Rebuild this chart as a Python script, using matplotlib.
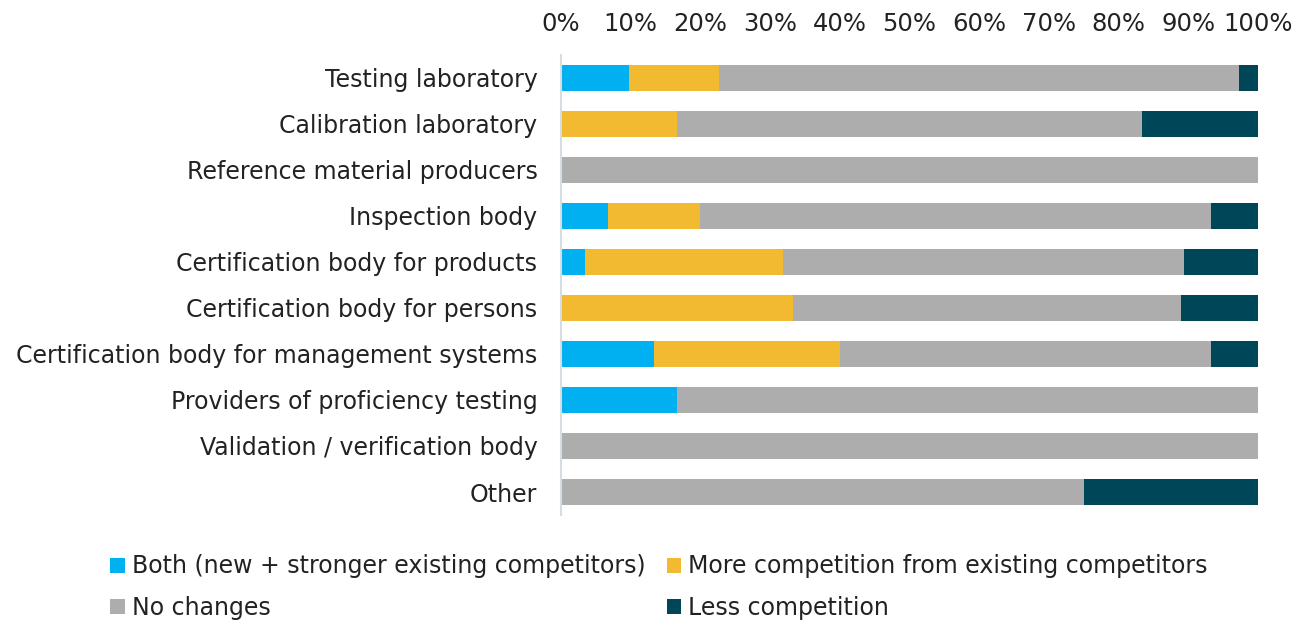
import numpy as np
import matplotlib.pyplot as plt
from matplotlib.ticker import PercentFormatter

categories = ["Testing laboratory", "Calibration laboratory", "Reference material producers",
              "Inspection body", "Certification body for products", "Certification body for persons",
              "Certification body for management systems", "Providers of proficiency testing",
              "Validation / verification body", "Other"]
both = [9.8, 0, 0, 6.7, 3.4, 0, 13.3, 16.7, 0, 0]
more = [12.9, 16.7, 0, 13.3, 28.4, 33.3, 26.7, 0, 0, 0]
no_change = [74.6, 66.6, 100, 73.3, 57.6, 55.6, 53.3, 83.3, 100, 75]
less = [2.7, 16.7, 0, 6.7, 10.6, 11.1, 6.7, 0, 0, 25]

series = [("Both (new + stronger existing competitors)", both, "#00B0F0"),
          ("More competition from existing competitors", more, "#F2BA30"),
          ("No changes", no_change, "#ADADAD"),
          ("Less competition", less, "#004659")]

plt.rcParams['font.family'] = 'DejaVu Sans'
txt = "#222222"
fs = 17

fig = plt.figure(figsize=(12.95, 6.21), dpi=100)
ax = fig.add_axes([561 / 1295, 1 - 515 / 621, 697 / 1295, 460 / 621])

y = np.arange(len(categories))
left = np.zeros(len(categories))
bars = []
for name, vals, color in series:
    vals = np.array(vals)
    bars.append(ax.barh(y, vals, left=left, height=0.57, color=color, label=name))
    left += vals

ax.set_xlim(0, 100)
ax.set_ylim(len(categories) - 0.5, -0.5)
ax.set_yticks(y)
ax.set_yticklabels(categories, fontsize=fs, color=txt)
ax.set_xticks(np.arange(0, 101, 10))
ax.xaxis.set_major_formatter(PercentFormatter(decimals=0))
ax.xaxis.tick_top()
ax.tick_params(axis='x', length=0, labelsize=17.5, labelcolor=txt, pad=14)
ax.tick_params(axis='y', length=0, pad=17)
for s in ["top", "right", "bottom"]:
    ax.spines[s].set_visible(False)
ax.spines["left"].set_color("#D6DEE3")
ax.spines["left"].set_linewidth(1.5)

# legend filled column-wise, so reorder to read row by row
order = [0, 2, 1, 3]
fig.legend([bars[i] for i in order], [series[i][0] for i in order],
           loc="upper left", bbox_to_anchor=(101 / 1295, 1 - 545 / 621), ncol=2,
           frameon=False, fontsize=fs, labelcolor=txt, handlelength=0.6, handleheight=0.6,
           handletextpad=0.3, columnspacing=0.9, labelspacing=0.75, borderaxespad=0)

fig.savefig("out.png", dpi=100)
